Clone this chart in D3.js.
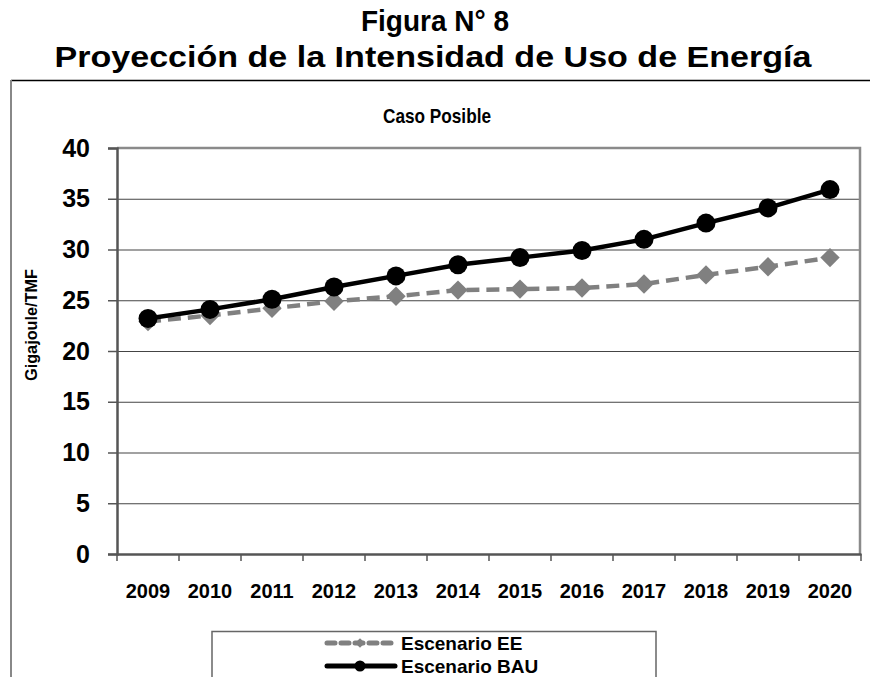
<html>
<head>
<meta charset="utf-8">
<script src="https://d3js.org/d3.v7.min.js"></script>
<style>
body { margin: 0; background: #fff; }
text { font-family: "Liberation Sans", Arial, sans-serif; font-weight: bold; fill: #000; }
</style>
</head>
<body>
<svg id="chart" width="870" height="677"></svg>
<script>
// data
var years = ["2009","2010","2011","2012","2013","2014","2015","2016","2017","2018","2019","2020"];
var bau = [23.2, 24.1, 25.1, 26.3, 27.4, 28.5, 29.2, 29.9, 31.0, 32.6, 34.1, 35.9];
var ee  = [22.9, 23.5, 24.2, 24.9, 25.4, 26.0, 26.1, 26.2, 26.6, 27.5, 28.3, 29.2];
var yTicks = [0, 5, 10, 15, 20, 25, 30, 35, 40];
var seriesNames = ["Escenario EE", "Escenario BAU"];

var svg = d3.select("#chart");

// titles
svg.append("text").attr("x", 435).attr("y", 31).attr("text-anchor", "middle")
  .attr("font-size", "29px").attr("textLength", 148).attr("lengthAdjust", "spacingAndGlyphs")
  .text("Figura N° 8");
svg.append("text").attr("x", 433).attr("y", 67).attr("text-anchor", "middle")
  .attr("font-size", "29px").attr("textLength", 757).attr("lengthAdjust", "spacingAndGlyphs")
  .text("Proyección de la Intensidad de Uso de Energía");

// outer chart frame (only top + left visible)
svg.append("line").attr("x1", 11).attr("x2", 870).attr("y1", 80.5).attr("y2", 80.5)
  .attr("stroke", "#000").attr("stroke-width", 1.5);
svg.append("line").attr("x1", 11).attr("x2", 11).attr("y1", 80).attr("y2", 677)
  .attr("stroke", "#888").attr("stroke-width", 2);

svg.append("text").attr("x", 437).attr("y", 123).attr("text-anchor", "middle")
  .attr("font-size", "21px").attr("textLength", 108).attr("lengthAdjust", "spacingAndGlyphs")
  .text("Caso Posible");

// scales
var x = d3.scaleBand().domain(years).range([117, 861]);
var y = d3.scaleLinear().domain([0, 40]).range([554, 148]);

// grid lines
svg.append("g")
  .attr("transform", "translate(117,0)")
  .call(d3.axisLeft(y).tickValues(yTicks).tickSize(-744).tickFormat(""))
  .call(function(g) {
    g.select(".domain").remove();
    g.selectAll("line").attr("stroke", "#444").attr("stroke-width", 1.2);
  });

// plot border top/right
svg.append("path")
  .attr("d", "M117,148 L860,148 L860,554")
  .attr("fill", "none").attr("stroke", "#8a8a8a").attr("stroke-width", 2.5);

// y axis
svg.append("g")
  .attr("transform", "translate(117,0)")
  .call(d3.axisLeft(y).tickValues(yTicks).tickSize(9).tickPadding(18))
  .call(function(g) {
    g.select(".domain").attr("stroke", "#555").attr("stroke-width", 2.5);
    g.selectAll("line").attr("stroke", "#555").attr("stroke-width", 1.5);
    g.selectAll("text").attr("font-size", "25px").attr("font-family", "Liberation Sans, Arial, sans-serif")
      .attr("font-weight", "bold").attr("fill", "#000");
  });

// x axis: labels at band centres, ticks at band edges
svg.append("g")
  .attr("transform", "translate(0,554)")
  .call(d3.axisBottom(x).tickSize(0).tickPadding(30))
  .call(function(g) {
    g.select(".domain").attr("stroke", "#555").attr("stroke-width", 2.5);
    g.selectAll("text").attr("font-size", "20px").attr("font-family", "Liberation Sans, Arial, sans-serif")
      .attr("font-weight", "bold").attr("fill", "#000");
  });
var edges = years.map(function(d) { return x(d); }).concat([x.range()[1]]);
svg.append("g").selectAll("line").data(edges).enter().append("line")
  .attr("x1", function(d) { return d; }).attr("x2", function(d) { return d; })
  .attr("y1", 554).attr("y2", 561)
  .attr("stroke", "#555").attr("stroke-width", 1.5);

// y title
svg.append("text")
  .attr("transform", "translate(37,325) rotate(-90)")
  .attr("text-anchor", "middle").attr("font-size", "17px")
  .attr("textLength", 112).attr("lengthAdjust", "spacingAndGlyphs")
  .text("Gigajoule/TMF");

// lines
var line = d3.line()
  .x(function(d, i) { return x(years[i]) + x.bandwidth() / 2; })
  .y(function(d) { return y(d); });

svg.append("path").datum(ee)
  .attr("d", line).attr("fill", "none")
  .attr("stroke", "#808080").attr("stroke-width", 4.5).attr("stroke-dasharray", "13,7");
svg.append("g").selectAll("path").data(ee).enter().append("path")
  .attr("d", d3.symbol().type(d3.symbolDiamond2).size(240))
  .attr("transform", function(d, i) { return "translate(" + (x(years[i]) + x.bandwidth() / 2) + "," + y(d) + ")"; })
  .attr("fill", "#808080");

svg.append("path").datum(bau)
  .attr("d", line).attr("fill", "none")
  .attr("stroke", "#000").attr("stroke-width", 4.5);
svg.append("g").selectAll("circle").data(bau).enter().append("circle")
  .attr("cx", function(d, i) { return x(years[i]) + x.bandwidth() / 2; })
  .attr("cy", function(d) { return y(d); })
  .attr("r", 9.5).attr("fill", "#000");

// legend
var lg = svg.append("g");
lg.append("path").attr("d", "M212,677 L212,631.5 L656,631.5 L656,677")
  .attr("fill", "none").attr("stroke", "#666").attr("stroke-width", 1.5);
var rows = [
  { name: seriesNames[0], y: 643, color: "#808080", dash: "8,6", marker: "diamond" },
  { name: seriesNames[1], y: 666, color: "#000", dash: null, marker: "circle" }
];
rows.forEach(function(r) {
  lg.append("line").attr("x1", 327).attr("x2", 395).attr("y1", r.y).attr("y2", r.y)
    .attr("stroke", r.color).attr("stroke-width", 5).attr("stroke-linecap", "round")
    .attr("stroke-dasharray", r.dash);
  if (r.marker === "diamond") {
    lg.append("path").attr("d", d3.symbol().type(d3.symbolDiamond2).size(60))
      .attr("transform", "translate(360," + r.y + ")").attr("fill", r.color);
  } else {
    lg.append("circle").attr("cx", 360).attr("cy", r.y).attr("r", 5.5).attr("fill", r.color);
  }
  lg.append("text").attr("x", 401).attr("y", r.y + 6.5).attr("font-size", "19px").text(r.name);
});
</script>
</body>
</html>
